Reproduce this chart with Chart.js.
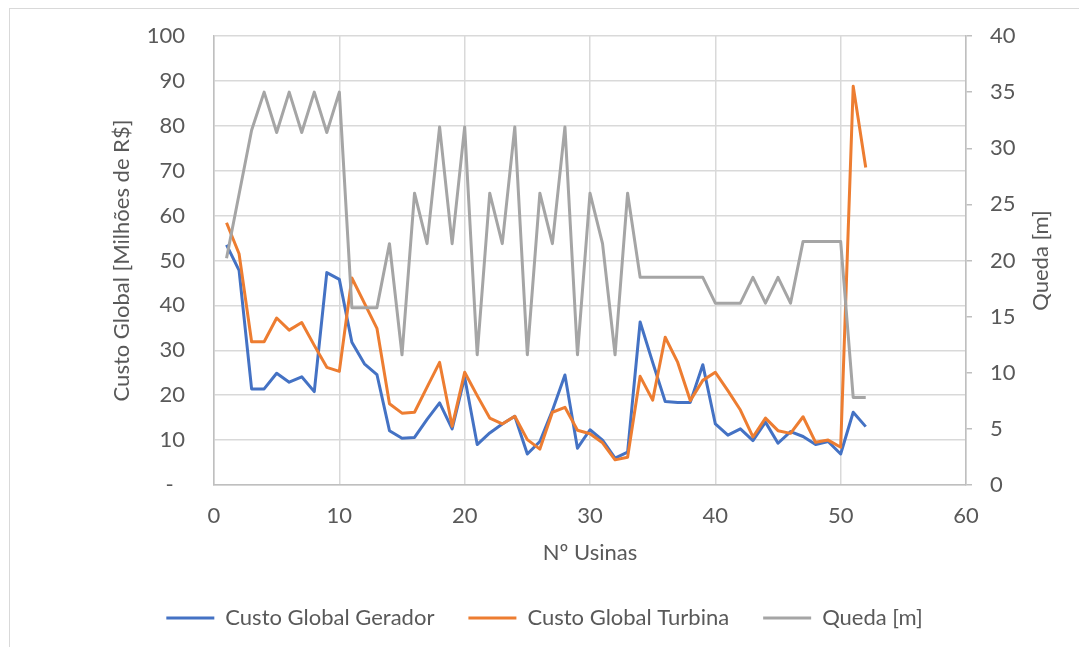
<!DOCTYPE html>
<html>
<head>
<meta charset="utf-8">
<script src="https://cdn.jsdelivr.net/npm/chart.js@4.4.0/dist/chart.umd.min.js"></script>
<style>
body{margin:0;background:#fff;}
#box{position:absolute;left:0;top:0;width:1079px;height:647px;overflow:hidden;}
#frame{position:absolute;left:9px;top:8px;width:1200px;height:800px;border-left:1px solid #d9d9d9;border-top:1px solid #d9d9d9;}
canvas{position:absolute;left:0;top:0;}
</style>
</head>
<body>
<div id="box"><div id="frame"></div><canvas id="c" width="1079" height="647"></canvas></div>
<script>
// Nº da usina (eixo x)
var usinas = [1,2,3,4,5,6,7,8,9,10,11,12,13,14,15,16,17,18,19,20,21,22,23,24,25,26,
    27,28,29,30,31,32,33,34,35,36,37,38,39,40,41,42,43,44,45,46,47,48,49,50,51,52];

// custo global [milhoes de R$]
var custoGerador = [53.5,47.8,21.4,21.4,24.9,22.9,24.1,20.8,47.3,45.8,31.8,27.0,24.6,12.1,10.4,10.6,
    14.6,18.3,12.5,24.0,9.0,11.6,13.6,15.3,6.9,9.7,16.6,24.5,8.2,12.3,10.0,6.0,7.3,36.3,27.3,18.6,
    18.4,18.4,26.8,13.6,11.1,12.5,9.9,14.0,9.3,11.9,10.8,9.0,9.7,6.9,16.2,13.0];
var custoTurbina = [58.4,51.5,31.9,31.9,37.2,34.5,36.2,31.1,26.2,25.3,46.1,40.5,34.9,18.1,16.0,16.2,
    21.8,27.3,13.1,25.1,19.9,14.9,13.6,15.3,10.1,8.0,16.2,17.3,12.2,11.4,9.4,5.6,6.2,24.2,18.9,32.9,
    27.3,18.8,23.3,25.1,21.0,16.7,10.7,14.9,12.1,11.5,15.2,9.5,10.0,8.4,88.8,70.7];

// queda [m] (eixo secundario)
var queda = [20.2,25.9,31.6,35.0,31.4,35.0,31.4,35.0,31.4,35.0,15.8,15.8,15.8,21.5,11.6,26.0,
    21.5,31.9,21.5,31.9,11.6,26.0,21.5,31.9,11.6,26.0,21.5,31.9,11.6,26.0,21.5,11.6,26.0,18.5,18.5,18.5,
    18.5,18.5,18.5,16.2,16.2,16.2,18.5,16.2,18.5,16.2,21.7,21.7,21.7,21.7,7.8,7.8];

var nomes = ['Custo Global Gerador','Custo Global Turbina','Queda [m]'];
var cores = ['#4472C4','#ED7D31','#A5A5A5'];

function pontos(valores){
    var out = [];
    for(var i=0; i<usinas.length; i++){
        out.push({x: usinas[i], y: valores[i]});
    }
    return out;
}

var fonte = "Lato, 'Liberation Sans', sans-serif";
Chart.defaults.font.family = fonte;
Chart.defaults.font.size = 22;
Chart.defaults.color = '#595959';

// titulo do eixo da direita, lido de baixo para cima como no Excel
var tituloDireita = {
    id: 'tituloDireita',
    afterDraw: function(chart){
        var ctx = chart.ctx;
        var a = chart.chartArea;
        var s = chart.scales.y2;
        ctx.save();
        ctx.translate(s.left + 75, (a.top + a.bottom)/2);
        ctx.rotate(-Math.PI/2);
        ctx.font = '22px ' + fonte;
        ctx.fillStyle = '#595959';
        ctx.textAlign = 'center';
        ctx.textBaseline = 'middle';
        ctx.fillText('Queda [m]', 0, 0);
        ctx.restore();
    }
};

function linha(i, valores, eixo, ordem){
    return {
        label: nomes[i],
        data: pontos(valores),
        yAxisID: eixo,
        borderColor: cores[i],
        backgroundColor: cores[i],
        borderWidth: 3,
        borderJoinStyle: 'round',
        pointRadius: 0,
        tension: 0,
        order: ordem
    };
}

// largura fixa do eixo e sem folga extra em cima/baixo
function fixaEixo(largura){
    return function(s){
        s.width = largura;
        s.paddingTop = 0;
        s.paddingBottom = 0;
    };
}

var ctx = document.getElementById('c').getContext('2d');
var myChart = new Chart(ctx, {
    type: 'line',
    data: {
        datasets: [
            linha(0, custoGerador, 'y', 2),
            linha(1, custoTurbina, 'y', 1),
            linha(2, queda, 'y2', 0)
        ]
    },
    options: {
        responsive: false,
        animation: false,
        layout: {padding: {left: 10, top: 36, right: 0, bottom: 8}},
        plugins: {
            tooltip: {enabled: false},
            legend: {
                position: 'bottom',
                labels: {
                    boxWidth: 48,
                    boxHeight: 3,
                    padding: 34,
                    generateLabels: function(chart){
                        var items = Chart.defaults.plugins.legend.labels.generateLabels(chart);
                        items.sort(function(a,b){ return a.datasetIndex - b.datasetIndex; });
                        items.forEach(function(it){ it.lineWidth = 0; it.fillStyle = it.strokeStyle; });
                        return items;
                    }
                }
            }
        },
        scales: {
            x: {
                type: 'linear',
                min: 0, max: 60,
                ticks: {stepSize: 10, padding: 18},
                grid: {color: '#d9d9d9', lineWidth: 1.5, drawTicks: false},
                border: {color: '#bfbfbf', width: 1.5},
                title: {display: true, text: 'Nº Usinas', padding: {top: 4, bottom: 7}},
                afterFit: function(s){ s.height = 88; }
            },
            y: {
                position: 'left',
                min: 0, max: 100,
                ticks: {
                    stepSize: 10, padding: 29,
                    callback: function(v){ return v === 0 ? '-  ' : v; }
                },
                grid: {color: '#d9d9d9', lineWidth: 1.5, drawTicks: false},
                border: {color: '#bfbfbf', width: 1.5},
                title: {display: true, text: 'Custo Global [Milhões de R$]', padding: {top: 99, bottom: 0}},
                afterFit: fixaEixo(204)
            },
            y2: {
                position: 'right',
                min: 0, max: 40,
                ticks: {stepSize: 5, padding: 18},
                grid: {drawOnChartArea: false, color: '#bfbfbf', lineWidth: 1.5, tickLength: 6},
                border: {color: '#bfbfbf', width: 1.5},
                afterFit: fixaEixo(113)
            }
        }
    },
    plugins: [tituloDireita]
});
</script>
</body>
</html>
